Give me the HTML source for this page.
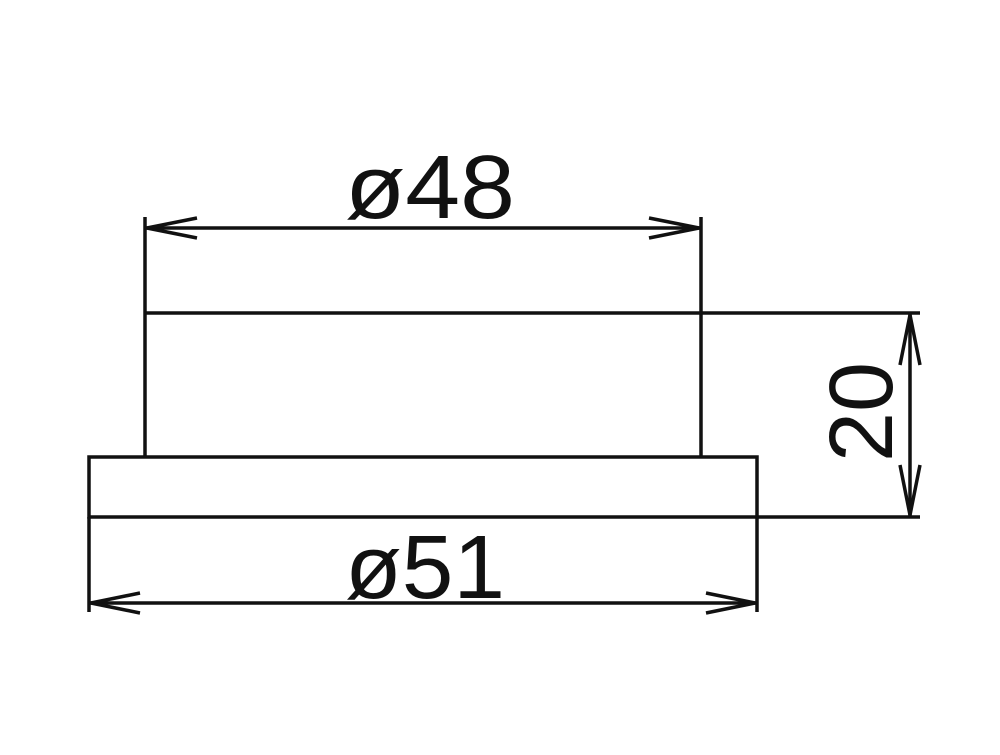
<!DOCTYPE html>
<html><head><style>body{margin:0;background:#fff}</style></head><body>
<svg width="1000" height="750" viewBox="0 0 1000 750" xmlns="http://www.w3.org/2000/svg">
<g stroke="#111" stroke-width="3.5" fill="none">
<line x1="145" y1="217" x2="145" y2="457"/>
<line x1="701" y1="217" x2="701" y2="457"/>
<line x1="145" y1="313" x2="920" y2="313"/>
<rect x="89" y="457" width="668" height="60"/>
<line x1="89" y1="517" x2="89" y2="612"/>
<line x1="757" y1="517" x2="757" y2="612"/>
<line x1="757" y1="517" x2="920" y2="517"/>
<line x1="145" y1="228" x2="701" y2="228"/>
<polyline points="197,218 147,228 197,238"/>
<polyline points="649,218 699,228 649,238"/>
<line x1="89" y1="603" x2="757" y2="603"/>
<polyline points="140,593 91,603 140,613"/>
<polyline points="706,593 755,603 706,613"/>
<line x1="910" y1="313" x2="910" y2="517"/>
<polyline points="900,365 910,315 920,365"/>
<polyline points="900,465 910,515 920,465"/>
</g>
<g font-family="Liberation Sans, sans-serif" font-size="90" fill="#111">
<text x="430" y="218" text-anchor="middle" textLength="170" lengthAdjust="spacingAndGlyphs">ø48</text>
<text x="425" y="598" text-anchor="middle" textLength="160" lengthAdjust="spacingAndGlyphs">ø51</text>
<text transform="translate(892,412) rotate(-90)" text-anchor="middle">20</text>
</g>
</svg>
</body></html>
